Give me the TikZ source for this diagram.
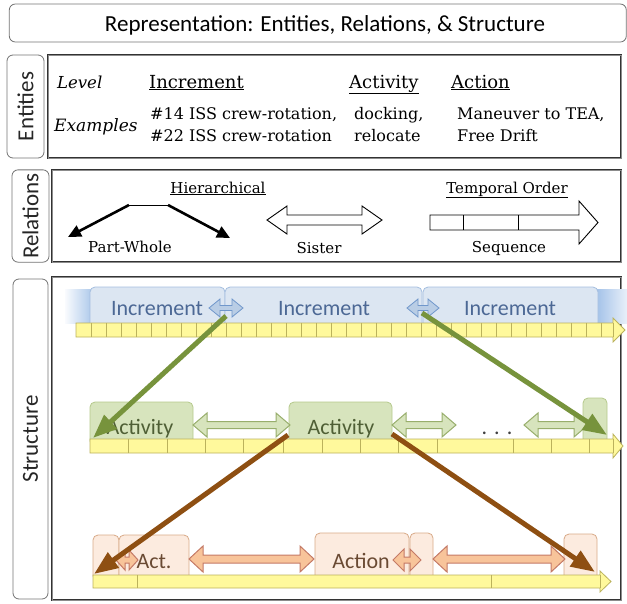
\documentclass[tikz,border=0pt]{standalone}
\usepackage{fontspec}
\setmainfont{DejaVu Serif}
\newfontfamily\calib{Carlito}
\usetikzlibrary{arrows.meta}
\definecolor{incfill}{HTML}{DCE6F2}
\definecolor{incdraw}{HTML}{A4BEDF}
\definecolor{inctext}{HTML}{4C6895}
\definecolor{bandblue}{HTML}{8EB4E3}
\definecolor{incarrfill}{HTML}{B9CDE5}
\definecolor{incarrdraw}{HTML}{7097CB}
\definecolor{tlfill}{HTML}{FFF99C}
\definecolor{tldraw}{HTML}{BBB25C}
\definecolor{actfill}{HTML}{D7E4BD}
\definecolor{actdraw}{HTML}{B5C98C}
\definecolor{acttext}{HTML}{4F5F35}
\definecolor{actarrdraw}{HTML}{98AE6C}
\definecolor{greenarr}{HTML}{77933C}
\definecolor{brownarr}{HTML}{8E4F12}
\definecolor{aonfill}{HTML}{FCEBDF}
\definecolor{aondraw}{HTML}{D8AA88}
\definecolor{aontext}{HTML}{6A4A33}
\definecolor{aonarrfill}{HTML}{F8C49A}
\definecolor{aonarrdraw}{HTML}{C47A66}
\newcommand\dblarr[7]{% style, x1, x2, y, shaft half, head half, head length
  \draw[#1] (#2,#4) -- ({#2+#7},{#4-#6}) -- ({#2+#7},{#4-#5}) -- ({#3-#7},{#4-#5})
    -- ({#3-#7},{#4-#6}) -- (#3,#4) -- ({#3-#7},{#4+#6}) -- ({#3-#7},{#4+#5})
    -- ({#2+#7},{#4+#5}) -- ({#2+#7},{#4+#6}) -- cycle;}
\begin{document}
\begin{tikzpicture}[x=1pt,y=-1pt,
  lbl/.style={draw=black!55, line width=0.8pt, rounded corners=6pt},
  lbltext/.style={font=\calib\fontsize{23}{27}\selectfont, text=black!85},
  mainbox/.style={draw=black!80, line width=0.8pt, double=black!45, double distance=0.9pt},
  ser/.style={font=\fontsize{16}{19}\selectfont, anchor=base west, inner sep=0pt},
  serhead/.style={font=\fontsize{18}{21}\selectfont, anchor=base west, inner sep=0pt},
  serit/.style={font=\itshape\fontsize{16.5}{19}\selectfont, anchor=base west, inner sep=0pt},
  rel/.style={font=\fontsize{15}{18}\selectfont, anchor=base, inner sep=0pt},
  inctab/.style={draw=incdraw, fill=incfill, line width=0.8pt, rounded corners=5pt, inner sep=0pt},
  acttab/.style={draw=actdraw, fill=actfill, line width=0.8pt, rounded corners=5pt, inner sep=0pt},
  aontab/.style={draw=aondraw, fill=aonfill, line width=0.8pt, rounded corners=5pt, inner sep=0pt},
  tabtext/.style={font=\calib\fontsize{22}{26}\selectfont, anchor=base, inner sep=0pt},
  tl/.style={draw=tldraw, fill=tlfill, line width=0.8pt, line join=miter},
  tlsep/.style={draw=tldraw, line width=0.8pt},
  incarr/.style={draw=incarrdraw, fill=incarrfill, line width=0.8pt},
  actarr/.style={draw=actarrdraw, fill=actfill, line width=1pt},
  aonarr/.style={draw=aonarrdraw, fill=aonarrfill, line width=1pt},
  greenlink/.style={draw=greenarr, line width=5pt, -{Triangle[length=24pt,width=18pt]}},
  brownlink/.style={draw=brownarr, line width=5pt, -{Triangle[length=24pt,width=18pt]}},
  pwarrow/.style={line width=2.6pt, -{Triangle[length=13pt,width=12pt]}}
]
\useasboundingbox (0,0) rectangle (627,603);

% ---------- title ----------
\node[lbl, minimum width=617pt, minimum height=38pt] (title) at (317.8,23) {};
\node[font=\calib\fontsize{23}{27}\selectfont, anchor=base, inner sep=0pt] (titlet) at (325,31)
  {Representation: Entities, Relations, \& Structure};

% ---------- entities ----------
\node[lbl, rotate=90, minimum width=103pt, minimum height=37pt, lbltext] (entl) at (25.5,106.5) {Entities};
\node[mainbox, minimum width=573pt, minimum height=103pt] (entm) at (334.5,106.5) {};
\node[serit] (lev) at (57,88) {Level};
\node[serhead] (hinc) at (149,88) {\underline{Increment}};
\node[serhead] (hact) at (349,88) {\underline{Activity}};
\node[serhead] (haon) at (451,88) {\underline{Action}};
\node[serit, font=\itshape\fontsize{17}{19}\selectfont] (exa) at (54,131) {Examples};
\node[ser] (e1) at (150,119) {\#14 ISS crew-rotation,};
\node[ser] (e2) at (150,141) {\#22 ISS crew-rotation};
\node[ser] (e3) at (354,119) {docking,};
\node[ser] (e4) at (354,141) {relocate};
\node[ser] (e5) at (457,119) {Maneuver to TEA,};
\node[ser] (e6) at (457,141) {Free Drift};

% ---------- relations ----------
\node[lbl, rotate=90, minimum width=92pt, minimum height=37pt, lbltext] (rell) at (30.5,216) {Relations};
\node[mainbox, minimum width=569pt, minimum height=92pt] (relm) at (336.5,216) {};
\node[rel] (hier) at (218,193) {\underline{Hierarchical}};
\node[rel] (temp) at (507,193) {\underline{Temporal Order}};
\node[rel] (pw) at (130,252) {Part-Whole};
\node[rel] (sis) at (319,253) {Sister};
\node[rel] (seq) at (509,252) {Sequence};
\coordinate (pwl) at (129,205);
\coordinate (pwr) at (168,205);
\coordinate (pwa) at (68,237);
\coordinate (pwb) at (230,238);
\draw[line width=1pt] (pwl) -- (pwr);
\draw[pwarrow] (pwl) -- (pwa);
\draw[pwarrow] (pwr) -- (pwb);
\dblarr{draw=black, fill=white, line width=0.9pt}{267}{382}{220}{5}{14}{20}
\draw[draw=black, fill=white, line width=0.9pt] (430,215) -- (579,215) -- (579,201) -- (598,222.5)
  -- (579,244) -- (579,230) -- (430,230) -- cycle;
\draw[line width=0.9pt] (463,215) -- (463,230) (518,215) -- (518,230);

% ---------- structure ----------
\node[lbl, rotate=90, minimum width=320pt, minimum height=35pt, lbltext] (strl) at (30.5,439) {Structure};
\node[mainbox, minimum width=569pt, minimum height=323pt] (strm) at (336.5,438.5) {};

% increments band
\shade[left color=bandblue!5, right color=bandblue!70] (65,289) rectangle (91,323);
\shade[left color=bandblue!80, right color=bandblue!20] (597,289) rectangle (627,323);
\node[inctab, minimum width=135pt, minimum height=44pt] (inc1) at (157.5,309) {};
\node[inctab, minimum width=197pt, minimum height=44pt] (inc2) at (323.5,309) {};
\node[inctab, minimum width=175pt, minimum height=44pt] (inc3) at (510.5,309) {};
\node[tabtext, text=inctext] (inc1t) at (157,315) {Increment};
\node[tabtext, text=inctext] (inc2t) at (324,315) {Increment};
\node[tabtext, text=inctext] (inc3t) at (510,315) {Increment};
\dblarr{incarr}{209}{243}{308}{2.5}{9}{11}
\dblarr{incarr}{407}{439}{308}{2.5}{9}{11}
% increment timeline
\draw[tl] (76,323) -- (613,323) -- (613,318) -- (625,330) -- (613,342) -- (613,337) -- (76,337) -- cycle;
\foreach \x in {91,106,...,601} \draw[tlsep] (\x,323) -- (\x,337);
\draw[tlsep] (613,323) -- (613,337);

% activities
\node[acttab, minimum width=103pt, minimum height=44pt] (act1) at (141.5,424) {};
\node[acttab, minimum width=103pt, minimum height=44pt] (act2) at (340.5,424) {};
\node[acttab, minimum width=24pt, minimum height=48pt] (act3) at (595,422) {};
\node[tabtext, text=acttext] (act1t) at (140,434) {Activity};
\node[tabtext, text=acttext] (act2t) at (341,434) {Activity};
\node[tabtext, text=black!75] (dots) at (497,434) {.\hspace{7pt}.\hspace{7pt}.};
\dblarr{actarr}{193}{290}{425}{3.5}{12}{14}
\dblarr{actarr}{392}{456}{425}{3.5}{12}{14}
\dblarr{actarr}{524}{588}{425}{3.5}{12}{14}
\draw[tl] (90,439) -- (613,439) -- (613,434) -- (623,446) -- (613,458) -- (613,453) -- (90,453) -- cycle;
\foreach \x in {128,167,205,243,283,322,360,398,437,513,551,589,613} \draw[tlsep] (\x,439) -- (\x,453);

% actions
\node[aontab, minimum width=26pt, minimum height=46pt] (a1) at (106,558) {};
\node[aontab, minimum width=70pt, minimum height=46pt] (a2) at (154,558) {};
\node[aontab, minimum width=94pt, minimum height=48pt] (a3) at (362,557) {};
\node[aontab, minimum width=23pt, minimum height=48pt] (a4) at (421.5,557) {};
\node[aontab, minimum width=33pt, minimum height=47pt] (a5) at (580.5,557.5) {};
\node[tabtext, text=aontext] (a2t) at (154,568) {Act.};
\node[tabtext, text=aontext] (a3t) at (361,568) {Action};
\dblarr{aonarr}{116}{138}{560}{3}{10}{9}
\dblarr{aonarr}{189}{314}{559}{4}{13}{14}
\dblarr{aonarr}{393}{421}{560}{3}{11}{11}
\dblarr{aonarr}{433}{565}{559}{4}{13}{14}
\draw[tl] (93,575) -- (600,575) -- (600,571) -- (611,581.5) -- (600,592) -- (600,588) -- (93,588) -- cycle;
\foreach \x in {137,491,600} \draw[tlsep] (\x,575) -- (\x,588);

% hierarchical links
\coordinate (g1s) at (226,316);
\coordinate (g1e) at (93,438);
\coordinate (g2s) at (422,313);
\coordinate (g2e) at (607,435);
\coordinate (b1s) at (288,435);
\coordinate (b1e) at (94,574);
\coordinate (b2s) at (392,434);
\coordinate (b2e) at (595,572);
\draw[greenlink] (g1s) -- (g1e);
\draw[greenlink] (g2s) -- (g2e);
\draw[brownlink] (b1s) -- (b1e);
\draw[brownlink] (b2s) -- (b2e);
\end{tikzpicture}
\end{document}
